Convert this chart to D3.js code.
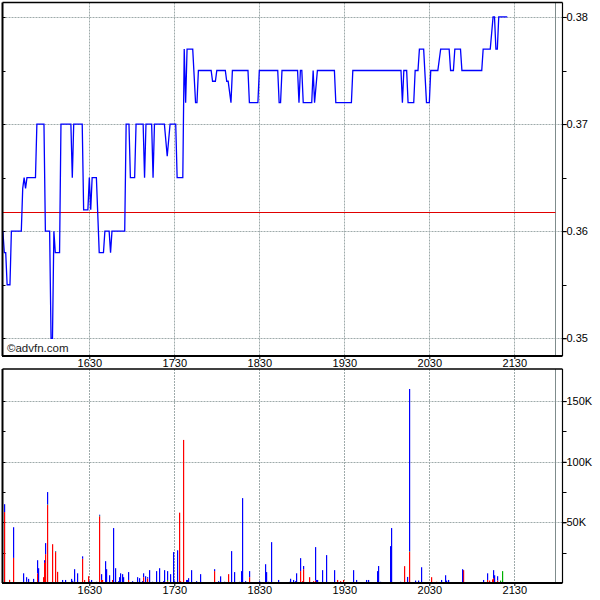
<!DOCTYPE html>
<html><head><meta charset="utf-8">
<script src="https://cdn.jsdelivr.net/npm/d3@7"></script>
<style>html,body{margin:0;padding:0;background:#fff;}svg{display:block;}</style>
</head><body>
<svg id="chart" width="600" height="600"></svg>
<script>
// ---------- DATA ----------
const xTickLabels = ["1630","1730","1830","1930","2030","2130"];
const sessionEnd = "21:59";
const prevClose = 0.3618;
const priceTickLabels = ["0.35","0.36","0.37","0.38"];
const volTickLabels = ["50K","100K","150K"];

const priceTimes = ["15:29","15:30","15:31","15:32","15:34","15:35","15:42","15:43","15:44","15:45","15:46","15:52","15:53","15:58","15:59","16:02","16:03","16:04","16:05","16:06","16:09","16:10","16:17","16:18","16:19","16:25","16:26","16:29","16:30","16:31","16:32","16:35","16:37","16:40","16:41","16:44","16:45","16:46","16:55","16:56","16:58","16:59","17:02","17:03","17:08","17:09","17:10","17:14","17:15","17:16","17:23","17:25","17:27","17:31","17:32","17:36","17:37","17:38","17:39","17:43","17:45","17:46","17:47","17:56","17:57","17:59","18:00","18:06","18:07","18:08","18:10","18:11","18:22","18:23","18:29","18:30","18:43","18:44","18:45","18:46","18:57","18:58","18:59","19:00","19:01","19:07","19:08","19:09","19:11","19:23","19:24","19:35","19:36","20:10","20:11","20:12","20:14","20:15","20:19","20:20","20:22","20:23","20:26","20:28","20:30","20:31","20:36","20:38","20:44","20:45","20:47","20:48","20:52","20:53","21:07","21:08","21:13","21:15","21:16","21:17","21:18","21:19","21:25"];
const prices = [0.360,0.358,0.358,0.355,0.355,0.360,0.360,0.364,0.365,0.364,0.365,0.365,0.370,0.370,0.360,0.360,0.350,0.350,0.360,0.358,0.358,0.370,0.370,0.365,0.370,0.370,0.362,0.362,0.365,0.362,0.365,0.365,0.358,0.358,0.360,0.360,0.358,0.360,0.360,0.370,0.370,0.365,0.365,0.370,0.370,0.365,0.370,0.370,0.365,0.370,0.370,0.367,0.370,0.370,0.365,0.365,0.377,0.372,0.377,0.377,0.372,0.372,0.375,0.375,0.374,0.374,0.375,0.375,0.374,0.374,0.372,0.375,0.375,0.372,0.372,0.375,0.375,0.372,0.372,0.375,0.375,0.372,0.375,0.375,0.372,0.372,0.375,0.372,0.375,0.375,0.372,0.372,0.375,0.375,0.372,0.375,0.375,0.372,0.372,0.375,0.375,0.377,0.377,0.372,0.372,0.375,0.375,0.377,0.377,0.375,0.375,0.377,0.377,0.375,0.375,0.377,0.377,0.380,0.380,0.377,0.377,0.380,0.380];

// Volume per minute (thousands): red (sell), green (unknown), blue (buy), stacked
const volTimes = ["15:30","15:33","15:36","15:43","15:45","15:47","15:50","15:53","15:54","15:57","15:58","15:59","16:00","16:04","16:06","16:07","16:11","16:13","16:17","16:18","16:19","16:21","16:25","16:26","16:29","16:30","16:31","16:35","16:37","16:38","16:39","16:41","16:42","16:44","16:46","16:47","16:48","16:50","16:51","16:52","16:53","16:54","16:57","17:00","17:04","17:05","17:07","17:08","17:09","17:11","17:12","17:14","17:17","17:19","17:22","17:23","17:25","17:27","17:29","17:30","17:32","17:33","17:34","17:36","17:38","17:39","17:40","17:42","17:45","17:48","17:58","18:01","18:02","18:05","18:08","18:10","18:12","18:16","18:17","18:18","18:20","18:23","18:30","18:34","18:35","18:36","18:38","18:43","18:51","18:52","18:54","18:55","18:56","18:59","19:00","19:01","19:05","19:08","19:09","19:10","19:11","19:14","19:17","19:23","19:25","19:27","19:29","19:36","19:38","19:45","19:47","19:53","19:54","19:55","20:02","20:03","20:09","20:12","20:14","20:16","20:20","20:22","20:24","20:31","20:35","20:38","20:41","20:42","20:43","20:53","20:54","21:08","21:11","21:12","21:14","21:15","21:16","21:18","21:20","21:21"];
const volRed   = [58.5,2.6,20.7,0,1,0,0,8,0,4.8,16.6,23.8,64.3,32,25.5,9.2,0,0,0,1,1,0,20,2.5,5.6,0,0,0,55,2.5,2.5,0,0,0,2.5,0,0,0,0,0,0,0,2.5,0,0,0,0,4.8,0,3.8,0,0,0,0,0,0,1.5,0,0,0,0,58,1.5,118,0,0.5,0,0,0,0,9.8,0.8,0,0,7.3,0,0,0,0,0,0,4.8,0,0,0,0,0,0,0,0,0,0,0,9.8,1.5,11.4,4.8,1.5,2,0,0,0,0,0,2.5,1.5,2.5,0,0,0,0,0,0,0,0,0,0,13.9,0,25.7,0,0,0,4.8,1,0,0,0,0,0,10.6,0,2.5,2,3,4,0,2,0,0];
const volGreen = [0,0,0,0,0,0,0,0,0,0,0,0,0.5,0,0.5,0,0,0,0,0,0,0,0,0,0,0,0,0,0.6,0,0,0,0,0,0,0,0,0,0,0,0,0,0,0,0,0,0,0,0,0,0,0,0,0,0,0,1,0,0,0,0,0,0,0,0.5,0,0,0,0,0,0,0,0,0,0,0,0,0,0,0,0,0,0,0,0,0,0,0,0,0,0,0,0,0,0,0,0,0,0,0,0,0,0,0,0,0,0,0,0,0,0,0,0,0,0,0,0,0,0,0.5,0,0,0,0,0,0,0,0,0,0,0,0,0,0,0,0,0,0,2,9.8];
const volBlue  = [6.5,0,25.3,8,3.8,3.4,3.4,10.8,12.2,0,2.2,9.1,10.2,0,0.3,0,2.5,2.5,3.4,0.8,10.4,8,2,0,0,1.5,2.5,1,0.7,4.8,0,18,11.4,6.4,0,45.3,12.2,1.5,4.8,8,7.3,4.8,6.5,1.5,4.8,4,1.5,3.2,5.6,1,10.6,1,9.8,12.2,1.5,10.6,7.3,7.3,25.5,1.5,27,0,0,0,2,2,4,10.6,1.5,7.3,1.6,0.7,5.5,1,0,26.3,9,1,9.8,70,1.5,5,1.5,15.5,9,1,33.7,2.5,1,3.5,2.5,1.5,8,10.7,0,2.6,0,0,27.6,2.5,2.5,10.6,23,10.6,0,0,0,10.6,2.5,2.5,2.5,9.8,14,1,30.4,45.3,1,0,5,133.8,2,2,13,0,0,2.5,6.4,2,2.5,11.4,0,2.5,5.5,0,0,6.6,6.4,3.6,0,0];

// ---------- HELPERS ----------
const toMin = s => { const [h,m] = s.split(":").map(Number); return h*60+m; };
const labelToMin = s => toMin(s.slice(0,2)+":"+s.slice(2));

const svg = d3.select("#chart");
const FONT = "'Liberation Sans', Arial, sans-serif";
const L = 2.5, R = 562.5;
const P = {top:2.5, bottom:356};
const V = {top:369, bottom:583};
const gridColor = "#9eaaaa";

const x = d3.scaleLinear().domain([928.73, 1324.0]).range([L, R]);
const yP = d3.scaleLinear().domain([0.34835, 0.38135]).range([P.bottom, P.top]);
const yV = d3.scaleLinear().domain([0, 176.5]).range([V.bottom, V.top]);

const xTicks = xTickLabels.map(labelToMin);
const endX = Math.round(x(toMin(sessionEnd))) + 0.5;

function panel(top, bottom, yScale, majorVals, minorVals, fmtMajor) {
  const g = svg.append("g");
  g.selectAll(".hg").data(majorVals).join("line")
    .attr("x1", L).attr("x2", R)
    .attr("y1", d => Math.round(yScale(d)) + 0.5).attr("y2", d => Math.round(yScale(d)) + 0.5)
    .attr("stroke", gridColor).attr("stroke-dasharray", "2,1");
  g.selectAll(".vg").data(xTicks).join("line")
    .attr("x1", d => Math.round(x(d)) + 0.5).attr("x2", d => Math.round(x(d)) + 0.5)
    .attr("y1", top).attr("y2", bottom)
    .attr("stroke", gridColor).attr("stroke-dasharray", "2,1");
  g.append("line").attr("x1", endX).attr("x2", endX).attr("y1", top).attr("y2", bottom)
    .attr("stroke", "#7f8c8c").attr("stroke-width", 1);
  const ax = d3.axisRight(yScale).tickValues(majorVals).tickSize(4).tickFormat(fmtMajor);
  const axg = svg.append("g").attr("transform", `translate(${R},0)`).call(ax);
  axg.select(".domain").remove();
  axg.selectAll("line").attr("stroke", "#000");
  axg.selectAll("text").attr("font-family", FONT).attr("font-size", 11).attr("fill", "#000").attr("x", 4);
  const allT = majorVals.concat(minorVals);
  svg.append("g").selectAll("line").data(allT).join("line")
    .attr("x1", R).attr("x2", R + 4)
    .attr("y1", d => Math.round(yScale(d)) + 0.5).attr("y2", d => Math.round(yScale(d)) + 0.5)
    .attr("stroke", "#000");
  svg.append("g").selectAll("line").data(allT).join("line")
    .attr("x1", L).attr("x2", L + 3)
    .attr("y1", d => Math.round(yScale(d)) + 0.5).attr("y2", d => Math.round(yScale(d)) + 0.5)
    .attr("stroke", "#000");
  const xa = d3.axisBottom(x).tickValues(xTicks).tickSize(3)
    .tickFormat((d, i) => xTickLabels[i]);
  const xg = svg.append("g").attr("transform", `translate(0,${bottom})`).call(xa);
  xg.select(".domain").remove();
  xg.selectAll("line").attr("stroke", "#000");
  xg.selectAll("text").attr("font-family", FONT).attr("font-size", 11).attr("fill", "#000")
    .attr("y", 3).attr("dy", "0.71em");
  return g;
}

function frame(top, bottom) {
  svg.append("line").attr("x1", L).attr("x2", R).attr("y1", top).attr("y2", top).attr("stroke", "#000").attr("stroke-width", 1.5);
  svg.append("line").attr("x1", L - 0.5).attr("x2", R).attr("y1", bottom).attr("y2", bottom).attr("stroke", "#000").attr("stroke-width", 2);
  svg.append("line").attr("x1", L).attr("x2", L).attr("y1", top).attr("y2", bottom).attr("stroke", "#000").attr("stroke-width", 2);
  svg.append("line").attr("x1", R).attr("x2", R).attr("y1", top).attr("y2", bottom).attr("stroke", "#000").attr("stroke-width", 1.2);
}

// ---------- PRICE PANEL ----------
panel(P.top, P.bottom, yP, priceTickLabels.map(Number), [0.355, 0.365, 0.375], d => d.toFixed(2));

svg.append("line")
  .attr("x1", L).attr("x2", endX)
  .attr("y1", Math.round(yP(prevClose)) + 0.5).attr("y2", Math.round(yP(prevClose)) + 0.5)
  .attr("stroke", "#e00000").attr("stroke-width", 1);

const priceData = priceTimes.map((t, i) => ({t: toMin(t), p: prices[i]}));
svg.append("path").datum(priceData)
  .attr("fill", "none").attr("stroke", "#0000ff").attr("stroke-width", 1.3)
  .attr("stroke-linejoin", "miter")
  .attr("d", d3.line().x(d => x(d.t)).y(d => yP(d.p)));

svg.append("text").attr("x", 7).attr("y", 352)
  .attr("font-family", FONT).attr("font-size", 11.5).attr("fill", "#222")
  .text("©advfn.com");

frame(P.top, P.bottom);

// ---------- VOLUME PANEL ----------
panel(V.top, V.bottom, yV, [50, 100, 150], [25, 75, 125], (d, i) => volTickLabels[i]);

const volData = volTimes.map((t, i) => ({t: toMin(t), red: volRed[i], green: volGreen[i], blue: volBlue[i]}));
const stack = d3.stack().keys(["red", "green", "blue"]);
const series = stack(volData);
const colors = {red: "#ff0000", green: "#00b000", blue: "#0000ff"};
svg.append("g").selectAll("g").data(series).join("g")
  .attr("fill", d => colors[d.key])
  .selectAll("rect").data(d => d.filter(s => s[1] > s[0])).join("rect")
    .attr("x", d => Math.round(x(d.data.t)))
    .attr("width", 1.2)
    .attr("y", d => yV(d[1]))
    .attr("height", d => yV(d[0]) - yV(d[1]));

frame(V.top, V.bottom);
</script>
</body></html>
